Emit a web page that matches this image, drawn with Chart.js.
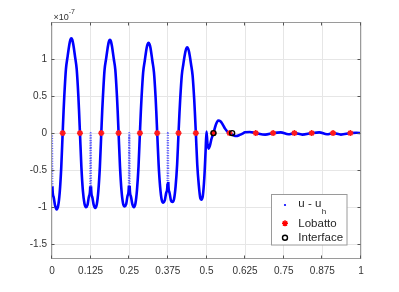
<!DOCTYPE html>
<html>
<head>
<meta charset="utf-8">
<script src="https://cdn.jsdelivr.net/npm/chart.js@4/dist/chart.umd.min.js"></script>
<style>
  html, body { margin: 0; padding: 0; background: #fff; }
  canvas { display: block; }
</style>
</head>
<body>
<canvas id="c" width="399" height="292"></canvas>
<script>
// ---- data (y in units of 1e-7) ----
const errX = [
  0, 0.0013, 0.005, 0.01, 0.015, 0.02, 0.025, 0.03, 0.0345, 0.0375, 0.0398, 0.045, 0.05, 0.0563, 0.0594, 0.0625, 0.0656, 0.0688, 0.075, 0.08, 0.0853, 0.0875, 0.0905, 0.095, 0.1, 0.105, 0.11, 0.115, 0.12, 0.1238,
  0.125, 0.1263, 0.13, 0.135, 0.14, 0.145, 0.15, 0.155, 0.1595, 0.1625, 0.1648, 0.17, 0.175, 0.1813, 0.1844, 0.1875, 0.1906, 0.1938, 0.2, 0.205, 0.2103, 0.2125, 0.2155, 0.22, 0.225, 0.23, 0.235, 0.24, 0.245, 0.2488,
  0.25, 0.2513, 0.255, 0.26, 0.265, 0.27, 0.275, 0.28, 0.2845, 0.2875, 0.2898, 0.295, 0.3, 0.3063, 0.3094, 0.3125, 0.3156, 0.3188, 0.325, 0.33, 0.3353, 0.3375, 0.3405, 0.345, 0.35, 0.355, 0.36, 0.365, 0.37, 0.3738,
  0.375, 0.3763, 0.38, 0.385, 0.39, 0.395, 0.4, 0.405, 0.4095, 0.4125, 0.4148, 0.42, 0.425, 0.4313, 0.4344, 0.4375, 0.4406, 0.4438, 0.45, 0.455, 0.4603, 0.4625, 0.4655, 0.47, 0.475, 0.48, 0.4833, 0.488, 0.493, 0.497,
  0.5, 0.503, 0.507, 0.511, 0.516, 0.5225, 0.53, 0.538, 0.545, 0.552, 0.56, 0.5675, 0.575, 0.583, 0.59, 0.597, 0.605, 0.615, 0.625, 0.64, 0.66, 0.69, 0.715, 0.74, 0.765, 0.785, 0.81, 0.84, 0.865, 0.89, 0.91, 0.935, 0.965, 0.985, 1
];
const errY = [
  0, -0.72, -0.86, -0.98, -1.03, -0.98, -0.8, -0.46, 0, 0.3, 0.5, 0.86, 1.02, 1.2, 1.26, 1.28, 1.26, 1.2, 1.02, 0.86, 0.5, 0.3, 0, -0.45, -0.78, -0.95, -1.0, -0.97, -0.85, -0.72,
  0, -0.72, -0.86, -0.97, -1.01, -0.96, -0.78, -0.45, 0, 0.3, 0.49, 0.85, 1.0, 1.18, 1.24, 1.26, 1.24, 1.18, 1.0, 0.85, 0.49, 0.3, 0, -0.45, -0.78, -0.95, -0.99, -0.96, -0.84, -0.71,
  0, -0.71, -0.85, -0.96, -1.0, -0.95, -0.77, -0.45, 0, 0.29, 0.48, 0.82, 0.97, 1.15, 1.2, 1.22, 1.2, 1.15, 0.97, 0.82, 0.48, 0.29, 0, -0.42, -0.73, -0.9, -0.94, -0.91, -0.8, -0.68,
  0, -0.66, -0.8, -0.91, -0.93, -0.89, -0.72, -0.42, 0, 0.27, 0.45, 0.78, 0.93, 1.09, 1.14, 1.16, 1.14, 1.09, 0.93, 0.78, 0.45, 0.27, 0, -0.42, -0.7, -0.88, -0.9, -0.85, -0.6, -0.25,
  0.02, -0.14, -0.21, -0.17, -0.08, 0, 0.11, 0.17, 0.16, 0.12, 0.06, 0.02, 0, -0.02, -0.035, -0.04, -0.03, -0.01, 0.01, 0.015, 0, -0.02, 0, 0.01, -0.015, 0, -0.02, 0, 0.01, -0.015, 0, -0.02, 0, 0.005, 0
];
const elementNodes = [0, 0.125, 0.25, 0.375];
const lobattoX = [0.0345, 0.0905, 0.1595, 0.2155, 0.2845, 0.3405, 0.4095, 0.4655, 0.5225, 0.5745, 0.6595, 0.7155, 0.7845, 0.8405, 0.9095, 0.9655];
const lobattoY = [0, 0, 0, 0, 0, 0, 0, 0, 0, 0, 0, 0, 0, 0, 0, 0];
const interfaceX = [0.5225, 0.583];
const interfaceY = [0, 0];
const xTickValues = [0, 0.125, 0.25, 0.375, 0.5, 0.625, 0.75, 0.875, 1];
const xTickLabels = ['0', '0.125', '0.25', '0.375', '0.5', '0.625', '0.75', '0.875', '1'];
const yTickValues = [-1.5, -1, -0.5, 0, 0.5, 1];
const yTickLabels = ['-1.5', '-1', '-0.5', '0', '0.5', '1'];
const seriesNames = ['u - u', 'Lobatto', 'Interface'];
const subscript = 'h';
const exponentBase = '\u00d710';
const exponentPower = '-7';

const FONT = "'Liberation Sans', Arial, Helvetica, sans-serif";

function nearNode(x) { return elementNodes.some(n => Math.abs(n - x) < 1e-9); }
function isNodeSeg(ctx) {
  const a = ctx.p0.parsed.x, b = ctx.p1.parsed.x;
  return (nearNode(a) || nearNode(b)) && Math.abs(b - a) < 0.002;
}

const boxPlugin = {
  id: 'matlabBox',
  afterDraw(chart) {
    const { ctx, chartArea: a, scales } = chart;
    const xs = scales.x, ys = scales.y;
    ctx.save();
    ctx.strokeStyle = '#9a9a9a';
    ctx.lineWidth = 1;
    const L = Math.round(a.left) - 0.5, R = Math.round(a.right) - 0.5;
    const T = Math.round(a.top) + 0.5, B = Math.round(a.bottom) - 0.5;
    ctx.strokeRect(L, T, R - L, B - T);
    ctx.strokeStyle = '#555';
    ctx.beginPath();
    xTickValues.forEach(v => {
      const px = Math.round(xs.getPixelForValue(v)) - 0.5;
      ctx.moveTo(px, B); ctx.lineTo(px, B - 3);
      ctx.moveTo(px, T); ctx.lineTo(px, T + 3);
    });
    yTickValues.forEach(v => {
      const py = Math.round(ys.getPixelForValue(v)) + 0.5;
      ctx.moveTo(L, py); ctx.lineTo(L + 3, py);
      ctx.moveTo(R, py); ctx.lineTo(R - 3, py);
    });
    ctx.stroke();

    // exponent label
    ctx.fillStyle = '#333';
    ctx.textBaseline = 'alphabetic';
    ctx.textAlign = 'left';
    ctx.font = '9px ' + FONT;
    ctx.fillText(exponentBase, 53.5, 20);
    const w = ctx.measureText(exponentBase).width;
    ctx.font = '7px ' + FONT;
    ctx.fillText(exponentPower, 53.5 + w, 14);

    // legend
    const lx = 271.5, ly = 194.5, lw = 75.5, lh = 50.5;
    ctx.fillStyle = '#fff';
    ctx.fillRect(lx, ly, lw, lh);
    ctx.strokeStyle = '#9a9a9a';
    ctx.lineWidth = 1;
    ctx.strokeRect(lx, ly, lw, lh);
    ctx.fillStyle = '#0000ff';
    ctx.beginPath(); ctx.arc(285, 205, 1.1, 0, Math.PI * 2); ctx.fill();
    ctx.strokeStyle = '#ff0000'; ctx.fillStyle = '#ff0000'; ctx.lineWidth = 1.5;
    Chart.helpers.drawPoint(ctx, { pointStyle: 'star', radius: 3, borderWidth: 1.5, rotation: 0 }, 285, 223.3);
    ctx.strokeStyle = '#000'; ctx.lineWidth = 1.4;
    ctx.beginPath(); ctx.arc(285, 237.7, 2.5, 0, Math.PI * 2); ctx.stroke();
    ctx.fillStyle = '#262626';
    ctx.font = '11.5px ' + FONT;
    ctx.fillText(seriesNames[0], 298.3, 207.3);
    const uw = ctx.measureText(seriesNames[0]).width;
    ctx.font = '8px ' + FONT;
    ctx.fillText(subscript, 298.3 + uw + 0.5, 214);
    ctx.font = '11.5px ' + FONT;
    ctx.fillText(seriesNames[1], 298.3, 227.3);
    ctx.fillText(seriesNames[2], 298.3, 241);
    ctx.restore();
  }
};

const curve = errX.map((x, i) => ({ x, y: errY[i] }));
const lob = lobattoX.map((x, i) => ({ x, y: lobattoY[i] }));
const intf = interfaceX.map((x, i) => ({ x, y: interfaceY[i] }));

new Chart(document.getElementById('c'), {
  type: 'scatter',
  data: {
    datasets: [
      { label: 'u - u_h', data: curve, showLine: true, borderColor: '#0000ff', backgroundColor: '#0000ff',
        borderWidth: 2.6, pointRadius: 0, cubicInterpolationMode: 'monotone', order: 3,
        segment: {
          borderDash: ctx => isNodeSeg(ctx) ? [1, 1.5] : undefined,
          borderColor: ctx => isNodeSeg(ctx) ? 'rgba(40,40,255,0.75)' : undefined,
          borderWidth: ctx => isNodeSeg(ctx) ? 2.2 : undefined
        } },
      { label: 'Lobatto', data: lob, pointStyle: 'star', pointRadius: 3, borderColor: '#ff1a1a',
        backgroundColor: '#ff1a1a', borderWidth: 1.6, order: 2 },
      { label: 'Interface', data: intf, pointStyle: 'circle', pointRadius: 2.5, borderColor: '#000',
        backgroundColor: 'rgba(0,0,0,0)', borderWidth: 1.4, order: 1 }
    ]
  },
  options: {
    responsive: false,
    animation: false,
    devicePixelRatio: 1,
    layout: { padding: { left: 0, right: 38, top: 22, bottom: 0 } },
    plugins: { legend: { display: false }, tooltip: { enabled: false } },
    scales: {
      x: {
        type: 'linear', min: 0, max: 1,
        afterBuildTicks: s => { s.ticks = xTickValues.map(v => ({ value: v })); },
        afterFit: s => { s.height = 33; },
        grid: { color: '#e6e6e6', drawTicks: false },
        border: { display: false },
        ticks: { padding: 6, color: '#333', font: { family: FONT, size: 10 },
          maxRotation: 0, autoSkip: false,
          callback: (v, i) => xTickLabels[i] }
      },
      y: {
        type: 'linear', min: -1.7, max: 1.5,
        afterBuildTicks: s => { s.ticks = yTickValues.map(v => ({ value: v })); },
        afterFit: s => { s.width = 52; },
        grid: { color: '#e6e6e6', drawTicks: false },
        border: { display: false },
        ticks: { padding: 5, color: '#333', font: { family: FONT, size: 10 }, autoSkip: false,
          callback: (v, i) => yTickLabels[i] }
      }
    }
  },
  plugins: [boxPlugin]
});
</script>
</body>
</html>
